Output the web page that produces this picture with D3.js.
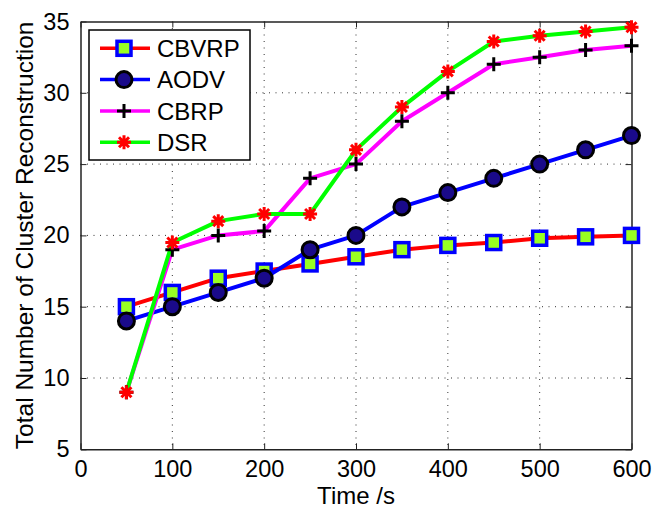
<!DOCTYPE html>
<html>
<head>
<meta charset="utf-8">
<title>Cluster Reconstruction</title>
<style>
  body { margin: 0; background: #fff; }
  text { font-family: "Liberation Sans", Arial, sans-serif; fill: #000; }
</style>
<script src="https://d3js.org/d3.v7.min.js"></script>
</head>
<body>
<div id="chart"></div>
<script>
// data
var times = [50, 100, 150, 200, 250, 300, 350, 400, 450, 500, 550, 600];
var cbvrp = [15, 16, 17, 17.5, 18, 18.5, 19, 19.3, 19.5, 19.8, 19.9, 20];
var aodv  = [14, 15, 16, 17, 19, 20, 22, 23, 24, 25, 26, 27];
var cbrp  = [9, 19, 20, 20.3, 24, 25, 28, 30, 32, 32.5, 33, 33.3];
var dsr   = [9, 19.5, 21, 21.5, 21.5, 26, 29, 31.5, 33.6, 34, 34.3, 34.6];
var xTicks = [0, 100, 200, 300, 400, 500, 600];
var yTicks = [5, 10, 15, 20, 25, 30, 35];

var series = [
  {name: "CBVRP", values: cbvrp, color: "#ff0000", marker: "square"},
  {name: "AODV",  values: aodv,  color: "#0000ff", marker: "circle"},
  {name: "CBRP",  values: cbrp,  color: "#ff00ff", marker: "plus"},
  {name: "DSR",   values: dsr,   color: "#00ff00", marker: "star"}
];

var W = 657, H = 507;
var margin = {top: 21.5, right: 25.5, bottom: 57.7, left: 80.5};
var width = W - margin.left - margin.right,
    height = H - margin.top - margin.bottom;

var svg = d3.select("#chart").append("svg")
    .attr("width", W).attr("height", H);
var g = svg.append("g")
    .attr("transform", "translate(" + margin.left + "," + margin.top + ")");

var x = d3.scaleLinear().domain([0, 600]).range([0, width]);
var y = d3.scaleLinear().domain([5, 35]).range([height, 0]);

// dotted grid
g.selectAll(".gx").data(xTicks.slice(1, -1)).enter().append("line")
    .attr("x1", d => x(d)).attr("x2", d => x(d))
    .attr("y1", 0).attr("y2", height)
    .attr("stroke", "#333").attr("stroke-width", 1)
    .attr("stroke-dasharray", "1,5.5");
g.selectAll(".gy").data(yTicks.slice(1, -1)).enter().append("line")
    .attr("x1", 0).attr("x2", width)
    .attr("y1", d => y(d)).attr("y2", d => y(d))
    .attr("stroke", "#333").attr("stroke-width", 1)
    .attr("stroke-dasharray", "1,5.5");

// axes, ticks inside
g.append("g").attr("transform", "translate(0," + height + ")")
    .call(d3.axisBottom(x).tickValues(xTicks).tickSizeInner(-6).tickSizeOuter(0).tickPadding(11));
g.append("g")
    .call(d3.axisLeft(y).tickValues(yTicks).tickSizeInner(-6).tickSizeOuter(0).tickPadding(11));
g.append("g").call(d3.axisTop(x).tickValues(xTicks).tickSizeInner(-6).tickSizeOuter(0).tickFormat(""));
g.append("g").attr("transform", "translate(" + width + ",0)")
    .call(d3.axisRight(y).tickValues(yTicks).tickSizeInner(-6).tickSizeOuter(0).tickFormat(""));
g.selectAll(".domain").attr("stroke", "#222").attr("stroke-width", 1.5);
g.selectAll(".tick line").attr("stroke", "#222");
g.selectAll(".tick text").attr("font-size", "23.5px")
    .attr("font-family", "'Liberation Sans', Arial, sans-serif").attr("fill", "#000");

// lines
var line = d3.line()
    .x((d, i) => x(times[i]))
    .y(d => y(d));

series.forEach(function(s) {
  g.append("path").datum(s.values)
      .attr("d", line)
      .attr("fill", "none")
      .attr("stroke", s.color)
      .attr("stroke-width", 4)
      .attr("stroke-linejoin", "round");
});

function drawMarker(sel, type) {
  if (type == "square") {
    sel.append("rect").attr("x", -7).attr("y", -7).attr("width", 14).attr("height", 14)
        .attr("fill", "#99ff22").attr("stroke", "#0000ff").attr("stroke-width", 3.5);
  } else if (type == "circle") {
    sel.append("circle").attr("r", 8)
        .attr("fill", "#1a0a8a").attr("stroke", "#000").attr("stroke-width", 3);
  } else if (type == "plus") {
    sel.append("path").attr("d", "M-7,0H7M0,-7V7")
        .attr("stroke", "#000").attr("stroke-width", 3);
  } else if (type == "star") {
    sel.append("path").attr("d", "M-7,0H7M0,-7V7M-5,-5L5,5M-5,5L5,-5")
        .attr("stroke", "#ff0000").attr("stroke-width", 3);
  }
}

series.forEach(function(s) {
  g.selectAll(null).data(s.values).enter().append("g")
      .attr("transform", (d, i) => "translate(" + x(times[i]) + "," + y(d) + ")")
      .each(function() { drawMarker(d3.select(this), s.marker); });
});

// legend
var legend = svg.append("g").attr("transform", "translate(89,30)");
legend.append("rect").attr("width", 161).attr("height", 130)
    .attr("fill", "#fff").attr("stroke", "#000").attr("stroke-width", 1.5);
series.forEach(function(s, i) {
  var row = legend.append("g").attr("transform", "translate(0," + (18.3 + i * 31.3) + ")");
  row.append("line").attr("x1", 11).attr("x2", 61)
      .attr("stroke", s.color).attr("stroke-width", 3.5);
  var m = row.append("g").attr("transform", "translate(35,0)");
  drawMarker(m, s.marker);
  row.append("text").attr("x", 68).attr("y", 8.8)
      .attr("font-size", "24px").text(s.name);
});

// axis labels
svg.append("text")
    .attr("x", margin.left + width / 2).attr("y", 503.5)
    .attr("text-anchor", "middle").attr("font-size", "24px")
    .text("Time /s");
svg.append("text")
    .attr("transform", "translate(33," + (margin.top + height / 2) + ") rotate(-90)")
    .attr("text-anchor", "middle").attr("font-size", "24.5px")
    .text("Total Number of Cluster Reconstruction");
</script>
</body>
</html>
